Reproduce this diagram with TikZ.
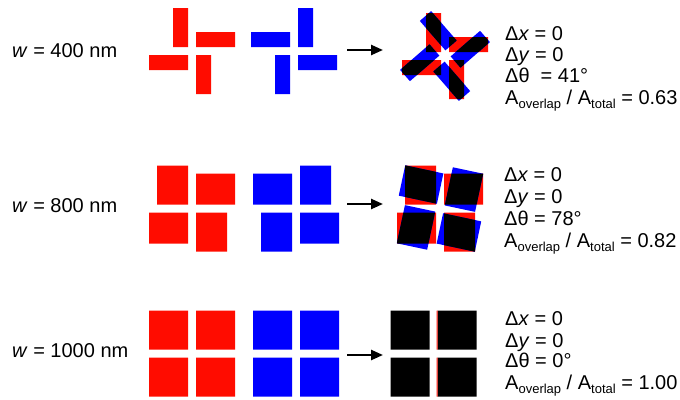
\documentclass[tikz,border=0pt]{standalone}
\usepackage{fontspec}
\setmainfont{Liberation Sans}
\usetikzlibrary{arrows.meta}

\definecolor{wred}{RGB}{255,12,0}
\definecolor{wblue}{RGB}{0,0,255}

% Four arms of a pinwheel around the origin; #1 = path command, #2 = arm width
\newcommand\redarms[2]{#1 (-4-#2,-43) rectangle (-4,-4) (4,-4-#2) rectangle (43,-4)
  (-43,4) rectangle (-4,4+#2) (4,4) rectangle (4+#2,43);}
\newcommand\bluearms[2]{#1 (4,-43) rectangle (4+#2,-4) (-43,-4-#2) rectangle (-4,-4)
  (4,4) rectangle (43,4+#2) (-4-#2,4) rectangle (-4,43);}

% Red wheel with the rotated blue wheel on top; their common area in black
% #1 = centre, #2 = arm width, #3 = rotation of the blue wheel
\newcommand\overlaywheel[3]{%
  \begin{scope}[shift={#1}]
    \redarms{\fill[wred]}{#2}
    \begin{scope}[rotate=#3]\bluearms{\fill[wblue]}{#2}\end{scope}
    \begin{scope}
      \redarms{\clip}{#2}
      \begin{scope}[rotate=#3]\bluearms{\fill[black]}{#2}\end{scope}
    \end{scope}
  \end{scope}}

\newcommand\sbs[1]{\raisebox{-4.5pt}{\fontsize{13}{13}\selectfont #1}}

\tikzset{
  lbl/.style={anchor=base west, inner sep=0pt, font=\fontsize{20}{22}\selectfont},
  arr/.style={line width=2.4pt, -{Triangle[length=12pt,width=10pt]}}
}

\begin{document}
\begin{tikzpicture}[x=1pt,y=-1pt]
\useasboundingbox (0,0) rectangle (680,399);

% ---- w = 400 nm ----
\node[lbl] (w1) at (12,57) {\textit{w} = 400 nm};
\begin{scope}[shift={(192,51)}]\redarms{\fill[wred]}{15}\end{scope}
\begin{scope}[shift={(294,51)}]\bluearms{\fill[wblue]}{15}\end{scope}
\coordinate (a1s) at (347,50);
\coordinate (a1e) at (383,50);
\draw[arr] (a1s) -- (a1e);
\overlaywheel{(445,56)}{15}{41}
\node[lbl] (t1a) at (505,40) {Δ\textit{x} = 0};
\node[lbl] (t1b) at (505,61.5) {Δ\textit{y} = 0};
\node[lbl] (t1c) at (505,82) {Δθ\hspace{11pt}= 41°};
\node[lbl] (t1d) at (505,104) {A\sbs{overlap} / A\sbs{total} = 0.63};

% ---- w = 800 nm ----
\node[lbl] (w2) at (12,212) {\textit{w} = 800 nm};
\begin{scope}[shift={(192,208.5)}]\redarms{\fill[wred]}{31}\end{scope}
\begin{scope}[shift={(296,208.5)}]\bluearms{\fill[wblue]}{31}\end{scope}
\coordinate (a2s) at (347,204);
\coordinate (a2e) at (383,204);
\draw[arr] (a2s) -- (a2e);
\overlaywheel{(440,208.5)}{31}{78}
\node[lbl] (t2a) at (504,181) {Δ\textit{x} = 0};
\node[lbl] (t2b) at (504,203) {Δ\textit{y} = 0};
\node[lbl] (t2c) at (504,225) {Δθ = 78°};
\node[lbl] (t2d) at (504,247) {A\sbs{overlap} / A\sbs{total} = 0.82};

% ---- w = 1000 nm ----
\node[lbl] (w3) at (12,357) {\textit{w} = 1000 nm};
\begin{scope}[shift={(192,353.5)}]\redarms{\fill[wred]}{39}\end{scope}
\begin{scope}[shift={(296,353.5)}]\bluearms{\fill[wblue]}{39}\end{scope}
\coordinate (a3s) at (347,355);
\coordinate (a3e) at (383,355);
\draw[arr] (a3s) -- (a3e);
\begin{scope}[shift={(433.5,353.5)}]
  \redarms{\fill[black]}{39}
  % thin red edge left of the right-hand squares
  \fill[wred] (3.2,-43) rectangle (4,-4) (3.2,4) rectangle (4,43);
\end{scope}
\node[lbl] (t3a) at (505,325) {Δ\textit{x} = 0};
\node[lbl] (t3b) at (505,347) {Δ\textit{y} = 0};
\node[lbl] (t3c) at (505,367) {Δθ = 0°};
\node[lbl] (t3d) at (505,389) {A\sbs{overlap} / A\sbs{total} = 1.00};
\end{tikzpicture}
\end{document}
